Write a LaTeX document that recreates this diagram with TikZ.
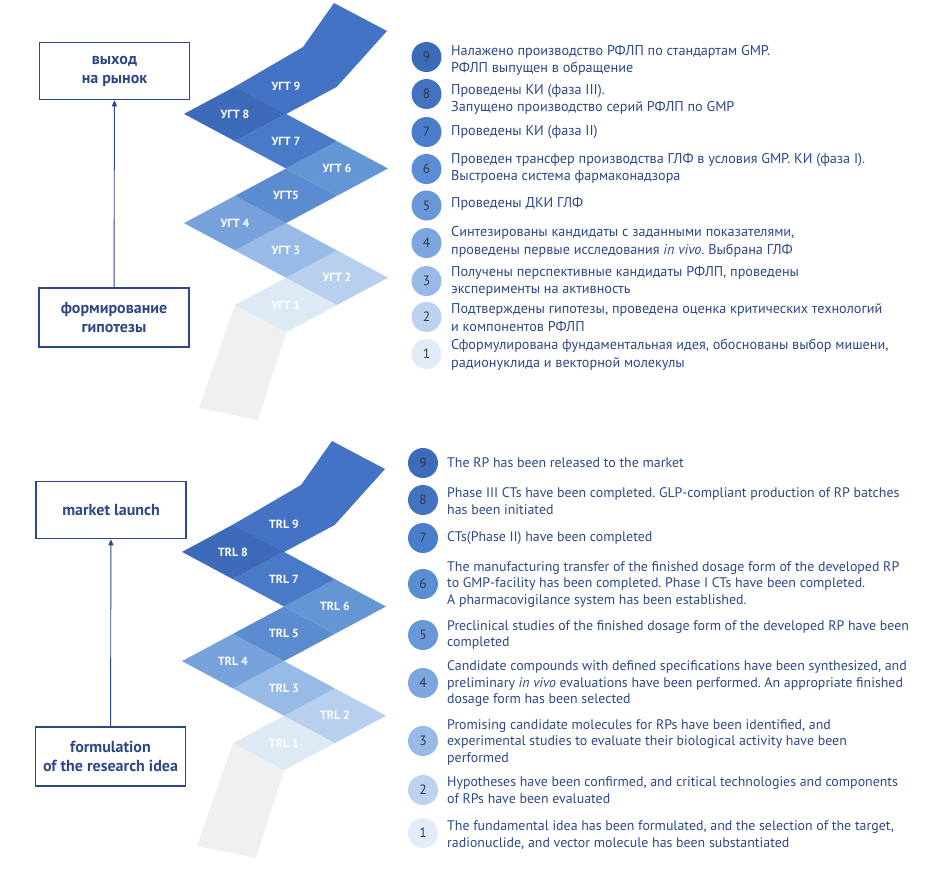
\documentclass[tikz,border=0pt]{standalone}
\usepackage{fontspec}
\setmainfont{PT Sans}
\usetikzlibrary{arrows.meta}
\frenchspacing

\definecolor{navy}{RGB}{45,72,135}
\definecolor{numc}{RGB}{50,56,72}
\definecolor{ghost}{RGB}{240,240,240}
% ribbon cells
\definecolor{c1}{RGB}{222,233,246}
\definecolor{c2}{RGB}{184,208,238}
\definecolor{c3}{RGB}{152,186,230}
\definecolor{c4}{RGB}{120,162,220}
\definecolor{c5}{RGB}{92,140,208}
\definecolor{c6}{RGB}{100,150,214}
\definecolor{c7}{RGB}{72,122,200}
\definecolor{c8}{RGB}{62,106,186}
\definecolor{c9}{RGB}{68,114,196}
% level dots
\definecolor{k1}{RGB}{226,236,248}
\definecolor{k2}{RGB}{188,210,238}
\definecolor{k3}{RGB}{152,186,230}
\definecolor{k4}{RGB}{124,166,222}
\definecolor{k5}{RGB}{104,152,216}
\definecolor{k6}{RGB}{90,142,212}
\definecolor{k7}{RGB}{74,126,204}
\definecolor{k8}{RGB}{66,114,192}
\definecolor{k9}{RGB}{60,108,184}

\begin{document}
\begin{tikzpicture}[x=1pt, y=-1pt,
		stagebox/.style={draw=navy, line width=1.5pt, minimum width=150pt, minimum height=57pt,
			align=center, text=navy, font=\fontsize{16}{19}\selectfont\bfseries},
		levdot/.style={circle, minimum size=30pt, inner sep=0pt, text=numc,
			font=\fontsize{13.5}{13.5}\selectfont},
		levtext/.style={anchor=west, align=left, inner sep=0pt, text=navy},
		cellname/.style={text=white, inner sep=0pt, font=\fontsize{11.8}{11.8}\selectfont\bfseries}]
		\useasboundingbox (0,0) rectangle (951,879);

		% Ribbons
		\foreach \dy/\dx in {0/0, 438/-2} {
			\begin{scope}[shift={(\dx,\dy)}]
				\fill[ghost] (235,305) -- (286,332.3) -- (258,420) -- (199,408) -- cycle;
				\foreach \cx/\cy/\n in {286/305/1, 337/277.7/2, 286/250.4/3, 235/223.1/4,
						286/195.8/5, 337/168.5/6, 286/141.2/7, 235/113.9/8, 286/86.6/9}
					\fill[c\n] (\cx-51,\cy) -- (\cx,\cy-27.3) -- (\cx+51,\cy) -- (\cx,\cy+27.3) -- cycle;
				\fill[c9] (235,86.6) -- (303,47) -- (334,3) -- (387,31) -- (337,86.6) -- (286,113.9) -- cycle;
			\end{scope}
		}

		% Cell names
		\foreach \cx/\cy/\n/\lab in {286/305/1/{УГТ 1}, 337/277.7/2/{УГТ 2}, 286/250.4/3/{УГТ 3},
				235/223.1/4/{УГТ 4}, 286/195.8/5/{УГТ5}, 337/168.5/6/{УГТ 6}, 286/141.2/7/{УГТ 7},
				235/113.9/8/{УГТ 8}, 286/86.6/9/{УГТ 9}}
			\node[cellname] (ucell\n) at (\cx,\cy) {\lab};
		\foreach \cx/\cy/\n in {284/743/1, 335/715.7/2, 284/688.4/3, 233/661.1/4, 284/633.8/5,
				335/606.5/6, 284/579.2/7, 233/551.9/8, 284/524.6/9}
			\node[cellname] (lcell\n) at (\cx,\cy) {TRL \n};

		% Stages
		\node[stagebox] (ubtop) at (114.5,71) {выход\\на рынок};
		\node[stagebox, minimum height=59pt] (ubbot) at (114,317.5) {формирование\\гипотезы};
		\draw[-{Triangle[length=6pt,width=5pt]}, navy, line width=0.9pt] (ubbot) -- (ubtop);
		\node[stagebox] (lbtop) at (111,510) {market launch};
		\node[stagebox, minimum height=59pt] (lbbot) at (110.5,756.5) {formulation\\of the research idea};
		\draw[-{Triangle[length=6pt,width=5pt]}, navy, line width=0.9pt] (lbbot) -- (lbtop);

		% Levels, Russian
		\foreach \n/\yc/\yt/\txt in {
				9/57/60.5/{Налажено производство РФЛП по стандартам GMP.\\РФЛП выпущен в обращение},
				8/94/99.4/{Проведены КИ (фаза III).\\Запущено производство серий РФЛП по GMP},
				7/132/131.7/{Проведены КИ (фаза II)},
				6/169/168.4/{Проведен трансфер производства ГЛФ в условия GMP. КИ (фаза I).\\Выстроена система фармаконадзора},
				5/205.5/204/{Проведены ДКИ ГЛФ},
				4/243/242/{Синтезированы кандидаты с заданными показателями,\\проведены первые исследования \textit{in vivo}. Выбрана ГЛФ},
				3/281/281.5/{Получены перспективные кандидаты РФЛП, проведены\\эксперименты на активность},
				2/317/317.5/{Подтверждены гипотезы, проведена оценка критических технологий\\и компонентов РФЛП},
				1/354/355/{Сформулирована фундаментальная идея, обоснованы выбор мишени,\\радионуклида и векторной молекулы}} {
			\node[levdot, fill=k\n] (udot\n) at (426.5,\yc) {\n};
			\node[levtext, font=\fontsize{14.2}{17.5}\selectfont] (utext\n) at (451,\yt) {\txt};
		}

		% Levels, English
		\foreach \n/\yc/\yt/\txt in {
				9/463/463/{The RP has been released to the market},
				8/500/501/{Phase III CTs have been completed. GLP-compliant production of RP batches\\has been initiated},
				7/538/538/{CTs(Phase II) have been completed},
				6/584/584.5/{The manufacturing transfer of the finished dosage form of the developed RP\\to GMP-facility has been completed. Phase I CTs have been completed.\\A pharmacovigilance system has been established.},
				5/635/635/{Preclinical studies of the finished dosage form of the developed RP have been\\completed},
				4/683/684/{Candidate compounds with defined specifications have been synthesized, and\\preliminary \textit{in vivo} evaluations have been performed. An appropriate finished\\dosage form has been selected},
				3/741/742/{Promising candidate molecules for RPs have been identified, and\\experimental studies to evaluate their biological activity have been\\performed},
				2/790/790/{Hypotheses have been confirmed, and critical technologies and components\\of RPs have been evaluated},
				1/833/835/{The fundamental idea has been formulated, and the selection of the target,\\radionuclide, and vector molecule has been substantiated}} {
			\node[levdot, fill=k\n] (ldot\n) at (423,\yc) {\n};
			\node[levtext, font=\fontsize{13.9}{16.5}\selectfont] (ltext\n) at (447,\yt) {\txt};
		}
\end{tikzpicture}
\end{document}
